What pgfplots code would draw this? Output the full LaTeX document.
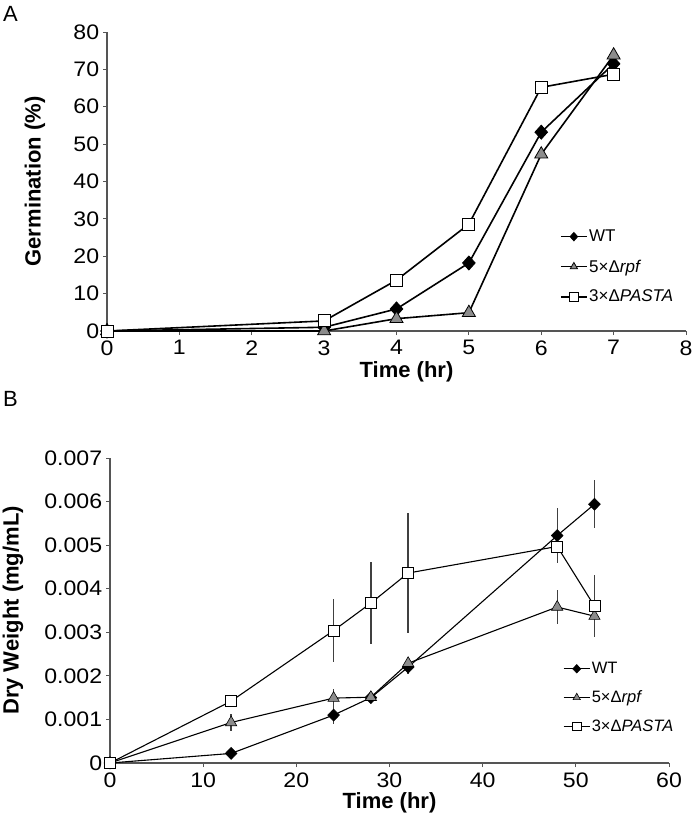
\documentclass[border=0pt]{standalone}
\usepackage{fontspec}
\setmainfont{Liberation Sans}
\usepackage{pgfplots}
\pgfplotsset{compat=1.18}
\definecolor{axgray}{HTML}{555555}
\definecolor{trigray}{HTML}{8C8C8C}
\pgfplotsset{
  myaxis/.style={
    scale only axis,
    anchor=south west,
    axis lines*=left,
    axis line style={draw=axgray, line width=1.1pt},
    tick style={draw=axgray, line width=0.9pt},
    tick align=outside,
    major tick length=4pt,
    ticklabel style={font=\fontsize{21}{23}\selectfont, xscale=1.1},
    xticklabel style={yshift=-2pt},
    /pgf/number format/assume math mode=true,
    xlabel style={font=\fontsize{22}{24}\bfseries, anchor=center},
    ylabel style={font=\fontsize{22}{24}\bfseries, anchor=center},
    clip=false,
    legend cell align=left,
    legend style={draw=none, fill=none, anchor=north west, nodes={inner sep=1.5pt}},
    legend image code/.code={\draw[mark repeat=2,mark phase=2,#1, mark size=4.2pt] plot coordinates {(0pt,0pt) (13pt,0pt) (26pt,0pt)};},
  }
}
\begin{document}
\begin{tikzpicture}
\useasboundingbox (0pt,0pt) rectangle (693pt,-818pt);
\node[anchor=base west, font=\fontsize{22}{23}\selectfont, inner sep=0pt] at (3pt,-22pt) {A};
\node[anchor=base west, font=\fontsize{22}{23}\selectfont, inner sep=0pt] at (3pt,-406pt) {B};

\begin{axis}[myaxis,
  at={(107pt,-331pt)}, width=579pt, height=299pt,
  xmin=0, xmax=8, ymin=0, ymax=80,
  xtick={0,1,2,3,4,5,6,7,8}, ytick={0,10,20,30,40,50,60,70,80},
  xlabel={Time (hr)}, ylabel={Germination (\%)},
  xlabel style={at={([xshift=10pt,yshift=-41pt]axis description cs:0.5,0)}},
  ylabel style={at={([xshift=-72pt]axis description cs:0,0.5)}},
  legend style={at={(rel axis cs:0.777,0.35)}, font=\fontsize{17}{18}\selectfont, row sep=13.5pt},
]
\addplot[black, line width=1.6pt, mark=diamond*, mark size=7pt, mark options={fill=black, xscale=1.2, line width=0.8pt}]
  coordinates {(0,0) (3,1) (4,5.9) (5,18.2) (6,53.2) (7,71.5)};
\addlegendentry{WT}
\addplot[black, line width=1.6pt, mark=triangle*, mark size=7.5pt, mark options={fill=trigray, line width=0.8pt}]
  coordinates {(0,0) (3,0) (4,3.3) (5,4.9) (6,47.3) (7,73.8)};
\addlegendentry{5×Δ\textit{rpf}}
\addplot[black, line width=1.6pt, mark=square*, mark size=6pt, mark options={fill=white, line width=0.9pt}]
  coordinates {(0,0) (3,2.7) (4,13.6) (5,28.6) (6,65.2) (7,68.7)};
\addlegendentry{3×Δ\textit{PASTA}}
\end{axis}

\begin{axis}[myaxis,
  at={(110pt,-763pt)}, width=559pt, height=305pt,
  xmin=0, xmax=60, ymin=0, ymax=0.007,
  xtick={0,10,20,30,40,50,60},
  ytick={0,0.001,0.002,0.003,0.004,0.005,0.006,0.007},
  yticklabels={0,0.001,0.002,0.003,0.004,0.005,0.006,0.007},
  scaled y ticks=false,
  xlabel={Time (hr)}, ylabel={Dry Weight (mg/mL)},
  xlabel style={at={([yshift=-40pt]axis description cs:0.5,0)}},
  ylabel style={at={([xshift=-97pt]axis description cs:0,0.5)}},
  legend style={at={(rel axis cs:0.805,0.342)}, font=\fontsize{16.5}{17}\selectfont, row sep=12.5pt},
  error bars/error bar style={draw=black!75, line width=1.3pt},
  error bars/error mark=none,
]
\addplot[black, line width=1.1pt, mark=diamond*, mark size=6pt, mark options={fill=black, xscale=1.3, line width=0.6pt},
  error bars/.cd, y dir=both, y explicit]
  table[x=x, y=y, y error=e] {
x y e
0 0 0
13 0.00022 0
24 0.00110 0.00020
28 0.00150 0.00010
32 0.00220 0.00015
48 0.00522 0.00063
52 0.00594 0.00055
};
\addlegendentry{WT}
\addplot[black, line width=1.1pt, mark=triangle*, mark size=6.5pt, mark options={fill=trigray, line width=0.6pt},
  error bars/.cd, y dir=both, y explicit]
  table[x=x, y=y, y error=e] {
x y e
0 0 0
13 0.00093 0.00020
24 0.00149 0.00020
28 0.00151 0.00010
32 0.00229 0.00010
48 0.00358 0.00040
52 0.00337 0.00046
};
\addlegendentry{5×Δ\textit{rpf}}
\addplot[black, line width=1.1pt, mark=square*, mark size=5.5pt, mark options={fill=white, line width=0.8pt},
  error bars/.cd, y dir=both, y explicit]
  table[x=x, y=y, y error=e] {
x y e
0 0 0
13 0.00142 0.00010
24 0.00304 0.00072
28 0.00367 0.00095
32 0.00436 0.00138
48 0.00497 0.00030
52 0.00360 0.00071
};
\addlegendentry{3×Δ\textit{PASTA}}
\end{axis}
\end{tikzpicture}
\end{document}
